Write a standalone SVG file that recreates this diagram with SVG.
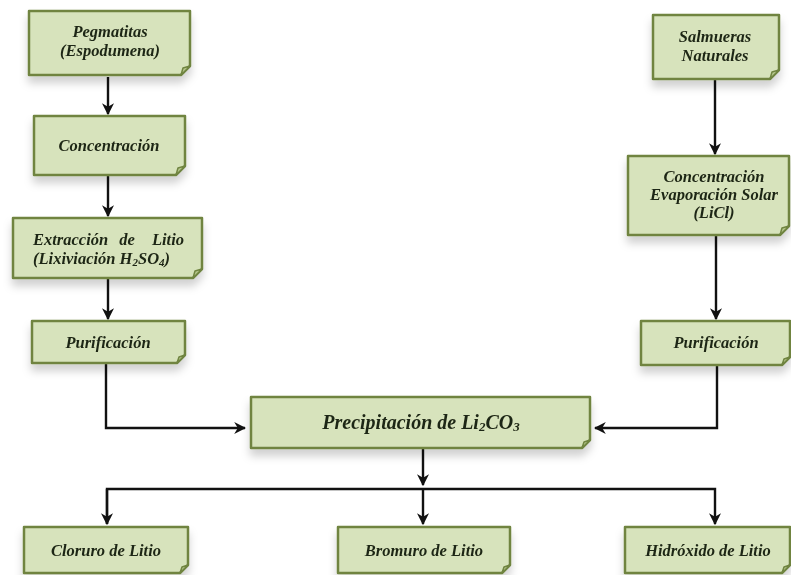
<svg xmlns="http://www.w3.org/2000/svg" width="791" height="575" viewBox="0 0 791 575">
<style>
.box{fill:#d7e3bc;stroke:#6f8440;stroke-width:2.5;stroke-linejoin:round}
.fold{fill:#b8c98e;stroke:#6f8440;stroke-width:1.5;stroke-linejoin:round}
.t{font-family:"Liberation Serif",serif;font-style:italic;font-weight:bold;font-size:16.5px;fill:#1e2614;text-anchor:middle}
.big{font-size:20px}
.c{fill:none;stroke:#111;stroke-width:2.4}
</style>
<defs>
<marker id="ah" viewBox="0 0 10 10" refX="9" refY="5" markerWidth="5" markerHeight="5" orient="auto" markerUnits="strokeWidth">
<path d="M0,0 L10,5 L0,10 L3,5 Z" fill="#111"/>
</marker>
<filter id="sh" x="-10%" y="-10%" width="120%" height="160%">
<feDropShadow dx="0" dy="7" stdDeviation="4" flood-color="#000" flood-opacity="0.18"/>
</filter>
</defs>

<g id="connectors">
<line class="c" x1="108" y1="77" x2="108" y2="114" marker-end="url(#ah)"/>
<line class="c" x1="108" y1="176" x2="108" y2="216" marker-end="url(#ah)"/>
<line class="c" x1="108" y1="279" x2="108" y2="319" marker-end="url(#ah)"/>
<polyline class="c" points="106,364 106,428 245,428" marker-end="url(#ah)"/>
<line class="c" x1="715" y1="80" x2="715" y2="154" marker-end="url(#ah)"/>
<line class="c" x1="716" y1="236" x2="716" y2="319" marker-end="url(#ah)"/>
<polyline class="c" points="717,366 717,428 595,428" marker-end="url(#ah)"/>
<line class="c" x1="423" y1="449" x2="423" y2="485" marker-end="url(#ah)"/>
<polyline class="c" points="107,524 107,489 715,489 715,524" marker-end="url(#ah)"/>
<line class="c" x1="107" y1="489" x2="107" y2="524" marker-end="url(#ah)"/>
<line class="c" x1="423" y1="489" x2="423" y2="524" marker-end="url(#ah)"/>
</g>

<g id="n-pegmatitas" filter="url(#sh)">
<path class="box" d="M29,11 H190 V66 L181,75 H29 Z"/>
<path class="fold" d="M190,66 L181,75 L183,68 Z"/>
<text class="t" x="110" y="37">Pegmatitas</text>
<text class="t" x="110" y="56">(Espodumena)</text>
</g>

<g id="n-concentracion" filter="url(#sh)">
<path class="box" d="M34,116 H185 V166 L176,175 H34 Z"/>
<path class="fold" d="M185,166 L176,175 L178,168 Z"/>
<text class="t" x="109" y="151">Concentración</text>
</g>

<g id="n-extraccion" filter="url(#sh)">
<path class="box" d="M13,218 H202 V269 L193,278 H13 Z"/>
<path class="fold" d="M202,269 L193,278 L195,271 Z"/>
<text class="t" x="33" y="245" style="text-anchor:start">Extracción</text>
<text class="t" x="127" y="245">de</text>
<text class="t" x="184" y="245" style="text-anchor:end">Litio</text>
<text class="t" x="33" y="264" style="text-anchor:start">(Lixiviación H<tspan font-size="11" dy="2">2</tspan><tspan dy="-2">SO</tspan><tspan font-size="11" dy="2">4</tspan><tspan dy="-2">)</tspan></text>
</g>

<g id="n-purificacion-1" filter="url(#sh)">
<path class="box" d="M32,321 H185 V355 L177,363 H32 Z"/>
<path class="fold" d="M185,355 L177,363 L179,357 Z"/>
<text class="t" x="108" y="348">Purificación</text>
</g>

<g id="n-salmueras" filter="url(#sh)">
<path class="box" d="M653,15 H779 V70 L770,79 H653 Z"/>
<path class="fold" d="M779,70 L770,79 L772,72 Z"/>
<text class="t" x="715" y="42">Salmueras</text>
<text class="t" x="715" y="61">Naturales</text>
</g>

<g id="n-evaporacion" filter="url(#sh)">
<path class="box" d="M628,156 H789 V226 L780,235 H628 Z"/>
<path class="fold" d="M789,226 L780,235 L782,228 Z"/>
<text class="t" x="714" y="182">Concentración</text>
<text class="t" x="714" y="200">Evaporación Solar</text>
<text class="t" x="714" y="218">(LiCl)</text>
</g>

<g id="n-purificacion-2" filter="url(#sh)">
<path class="box" d="M641,321 H790 V357 L782,365 H641 Z"/>
<path class="fold" d="M790,357 L782,365 L784,359 Z"/>
<text class="t" x="716" y="348">Purificación</text>
</g>

<g id="n-precipitacion" filter="url(#sh)">
<path class="box" d="M251,397 H590 V440 L582,448 H251 Z"/>
<path class="fold" d="M590,440 L582,448 L584,442 Z"/>
<text class="t big" x="421" y="429">Precipitación de Li<tspan font-size="13" dy="2">2</tspan><tspan dy="-2">CO</tspan><tspan font-size="13" dy="2">3</tspan></text>
</g>

<g id="n-cloruro" filter="url(#sh)">
<path class="box" d="M24,527 H188 V565 L180,573 H24 Z"/>
<path class="fold" d="M188,565 L180,573 L182,567 Z"/>
<text class="t" x="106" y="556">Cloruro de Litio</text>
</g>

<g id="n-bromuro" filter="url(#sh)">
<path class="box" d="M338,527 H510 V565 L502,573 H338 Z"/>
<path class="fold" d="M510,565 L502,573 L504,567 Z"/>
<text class="t" x="424" y="556">Bromuro de Litio</text>
</g>

<g id="n-hidroxido" filter="url(#sh)">
<path class="box" d="M625,527 H790 V565 L782,573 H625 Z"/>
<path class="fold" d="M790,565 L782,573 L784,567 Z"/>
<text class="t" x="708" y="556">Hidróxido de Litio</text>
</g>
</svg>
